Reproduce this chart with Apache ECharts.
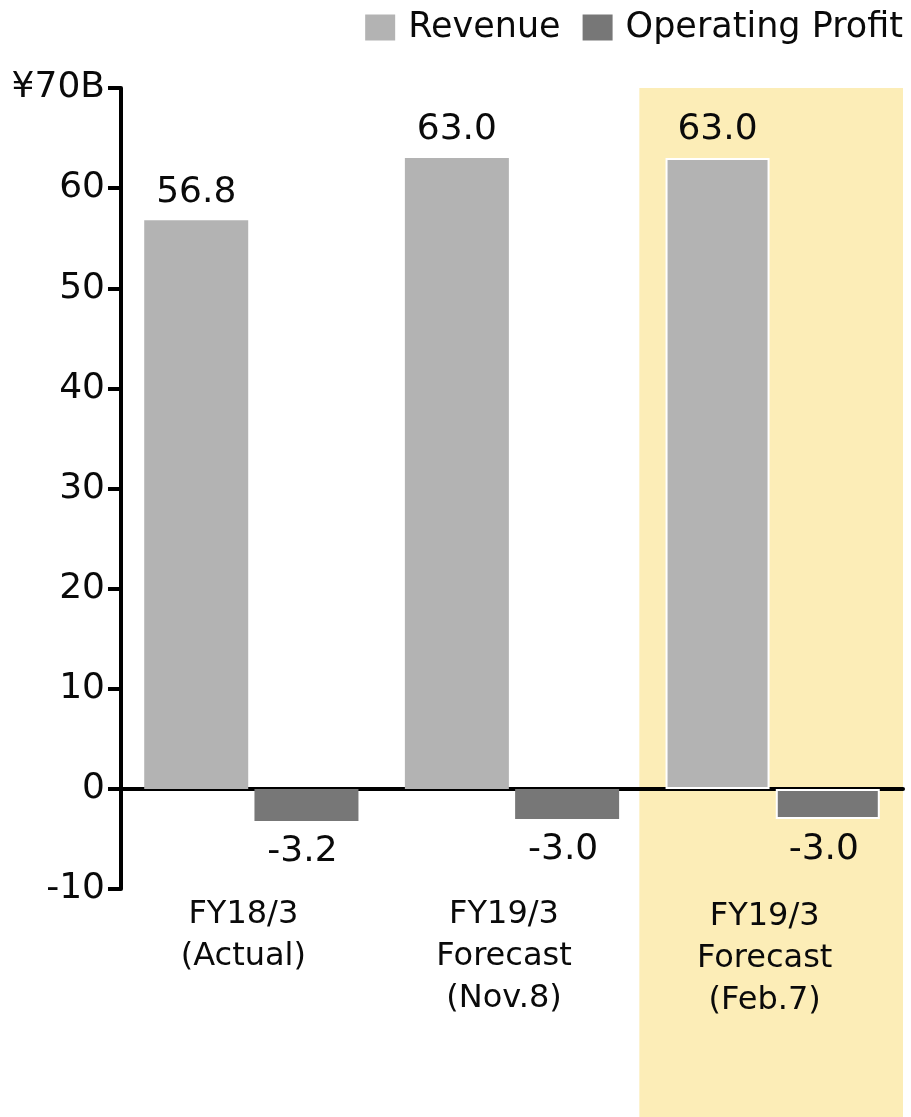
<!DOCTYPE html>
<html>
<head>
<meta charset="utf-8">
<script src="https://cdn.jsdelivr.net/npm/echarts@6/dist/echarts.min.js"></script>
<style>
  html, body { margin: 0; padding: 0; background: #fff; }
  #chart { width: 911px; height: 1117px; }
</style>
</head>
<body>
<div id="chart"></div>
<script>
// Fiscal periods (multi-line category labels)
const categories = ['FY18/3\n(Actual)', 'FY19/3\nForecast\n(Nov.8)', 'FY19/3\nForecast\n(Feb.7)'];
// Values in billions of yen
const revenue = [56.8, 63.0, 63.0];
const operatingProfit = [-3.2, -3.0, -3.0];
// Y axis range
const yMin = -10, yMax = 70, yStep = 10;
// Index of the highlighted (latest) forecast
const highlightIndex = 2;

const FONT = 'DejaVu Sans';
const revenueColor = '#b3b3b3';
const profitColor = '#777777';
const highlightColor = '#fcedb7';

function toItems(values) {
  return values.map((v, i) => i === highlightIndex
    ? { value: v, itemStyle: { borderColor: '#ffffff', borderWidth: 2 } }
    : { value: v });
}

const chart = echarts.init(document.getElementById('chart'), null, { renderer: 'canvas' });

const option = {
  animation: false,
  backgroundColor: '#ffffff',
  textStyle: { fontFamily: FONT },
  legend: {
    top: 5,
    right: 3,
    itemWidth: 30,
    itemHeight: 26,
    itemGap: 22,
    icon: 'rect',
    textStyle: { fontFamily: FONT, fontSize: 35, color: '#0a0a0a', padding: [0, 0, 0, 8] },
    data: ['Revenue', 'Operating Profit']
  },
  grid: { left: 121, right: 8, top: 88, bottom: 228, containLabel: false },
  xAxis: [
    {
      // zero line through the chart
      type: 'category',
      data: categories,
      axisLine: { onZero: true, lineStyle: { color: '#000', width: 4 } },
      axisTick: { show: false },
      axisLabel: { show: false },
      splitLine: { show: false }
    },
    {
      // category labels below the plot
      type: 'category',
      data: categories,
      position: 'bottom',
      axisLine: { show: false, onZero: false },
      axisTick: { show: false },
      axisLabel: {
        interval: 0,
        hideOverlap: false,
        margin: 5,
        fontFamily: FONT,
        fontSize: 32,
        lineHeight: 42,
        color: '#0a0a0a',
        padding: [0, 16, 0, 0],
        formatter: (v, i) => i === highlightIndex ? '{h|' + v.split('\n').join('}\n{h|') + '}' : v,
        rich: { h: { fontFamily: FONT, fontSize: 32, lineHeight: 42, color: '#0a0a0a', padding: [3, 0, 0, 0] } }
      },
      splitLine: { show: false }
    }
  ],
  yAxis: {
    type: 'value',
    min: yMin,
    max: yMax,
    interval: yStep,
    axisLine: { show: true, lineStyle: { color: '#000', width: 4 } },
    axisTick: { show: true, length: 13, lineStyle: { color: '#000', width: 4 } },
    axisLabel: {
      margin: 16,
      fontFamily: FONT,
      fontSize: 36,
      color: '#0a0a0a',
      formatter: v => v === yMax ? '¥' + v + 'B' : String(v)
    },
    splitLine: { show: false }
  },
  series: [
    {
      name: 'Revenue',
      type: 'bar',
      xAxisIndex: 0,
      barWidth: 104,
      barGap: '6%',
      itemStyle: { color: revenueColor },
      label: {
        show: true,
        position: 'outside',
        distance: 10,
        fontFamily: FONT,
        fontSize: 36,
        color: '#0a0a0a',
        formatter: p => p.value.toFixed(1)
      },
      data: toItems(revenue)
    },
    {
      name: 'Operating Profit',
      type: 'bar',
      xAxisIndex: 0,
      barWidth: 104,
      barGap: '6%',
      itemStyle: { color: profitColor },
      label: {
        show: true,
        position: 'outside',
        distance: 13,
        offset: [-4, 0],
        fontFamily: FONT,
        fontSize: 36,
        color: '#0a0a0a',
        formatter: p => p.value.toFixed(1)
      },
      data: toItems(operatingProfit)
    }
  ]
};

chart.setOption(option);

// Shaded band behind the latest forecast, from the top of the value axis to the page bottom
function drawHighlight() {
  const c0 = chart.convertToPixel({ xAxisIndex: 0 }, categories[0]);
  const c1 = chart.convertToPixel({ xAxisIndex: 0 }, categories[1]);
  const cH = chart.convertToPixel({ xAxisIndex: 0 }, categories[highlightIndex]);
  const band = c1 - c0;
  const top = chart.convertToPixel({ yAxisIndex: 0 }, yMax);
  const pad = 3;
  const left = cH - band / 2 - pad;
  chart.setOption({
    graphic: [{
      type: 'rect',
      z: -10,
      silent: true,
      shape: { x: left, y: top, width: band + pad, height: chart.getHeight() - top },
      style: { fill: highlightColor }
    }]
  });
}
drawHighlight();
</script>
</body>
</html>
